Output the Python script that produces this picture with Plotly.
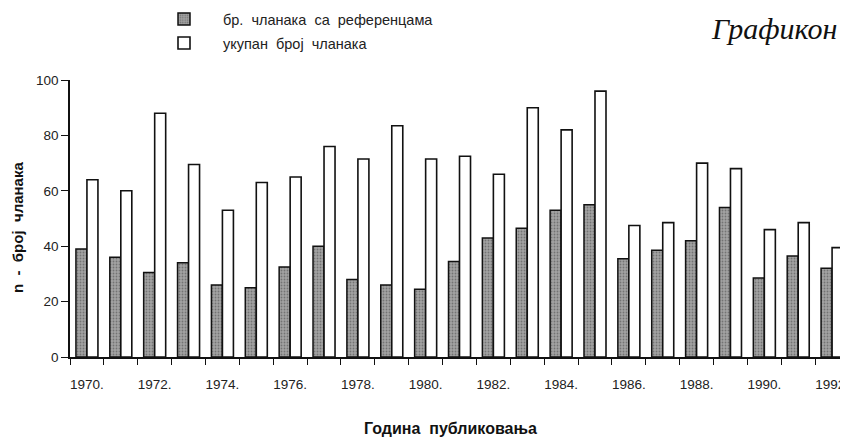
import plotly.graph_objects as go

years = list(range(1970, 1993))
with_refs = [39, 36, 30.5, 34, 26, 25, 32.5, 40, 28, 26, 24.5, 34.5, 43, 46.5, 53, 55,
             35.5, 38.5, 42, 54, 28.5, 36.5, 32]
totals = [64, 60, 88, 69.5, 53, 63, 65, 76, 71.5, 83.5, 71.5, 72.5, 66, 90, 82, 96,
          47.5, 48.5, 70, 68, 46, 48.5, 39.5]
label_years = [y for y in years if y % 2 == 0]
label_text = [f"{y}." for y in label_years]
boundaries = [y - 0.5 for y in years] + [years[-1] + 0.5]
y_ticks = [0, 20, 40, 60, 80, 100]

name_refs = "бр.  чланака  са  референцама"
name_tot = "укупан  број  чланака"

FONT = "Liberation Sans, Arial, sans-serif"

# figure is drawn inside the page body, which sits 8px from the window edge
W, H = 840, 429
L, T, B = 62, 72, 80
PW, PH = W - L, H - T - B


def px(xw):
    return (xw - 8 - L) / PW


def py(yw):
    return (H - B - (yw - 8)) / PH


fig = go.Figure()
fig.add_trace(go.Bar(
    x=years, y=with_refs, name=name_refs, legend="legend",
    marker=dict(color="#999", line=dict(color="#111", width=1.5),
                pattern=dict(shape=".", fgcolor="#444", bgcolor="#a3a3a3", size=3, solidity=0.3)),
))
fig.add_trace(go.Bar(
    x=years, y=totals, name=name_tot, legend="legend2",
    marker=dict(color="white", line=dict(color="#111", width=1.6)),
))

fig.update_layout(
    width=W, height=H, showlegend=True,
    margin=dict(l=L, r=0, t=T, b=B, autoexpand=False),
    paper_bgcolor="white", plot_bgcolor="white",
    barmode="group", bargap=0.35, bargroupgap=0.0,
    font=dict(family=FONT, size=13, color="#222"),
    title=dict(text="Графикон 1", xref="container", yref="container",
               x=(712 - 8) / W, xanchor="left", y=1 - (28 - 8) / H, yanchor="middle",
               font=dict(family="Liberation Serif, Times New Roman, serif", size=30,
                         style="italic", color="#111")),
    xaxis=dict(range=[1969.5, 1992.47], tickmode="array", tickvals=label_years,
               ticktext=label_text, ticks="", showline=True, linecolor="#111",
               linewidth=1.5, showgrid=False, zeroline=False, ticklabelstandoff=14,
               ticklabeloverflow="allow", tickfont=dict(size=13.5),
               minor=dict(tickmode="array", tickvals=boundaries, ticks="outside",
                          ticklen=6, tickwidth=1.3, tickcolor="#111", showgrid=False)),
    xaxis2=dict(overlaying="x", matches="x", anchor="y", side="bottom",
                tickmode="array", tickvals=boundaries, ticks="inside", ticklen=6,
                tickwidth=1.3, tickcolor="#111", showticklabels=False,
                showline=False, showgrid=False, zeroline=False),
    yaxis=dict(range=[0, 100], tickmode="array", tickvals=y_ticks, ticks="outside",
               ticklen=7, tickwidth=1.3, tickcolor="#111", showline=True,
               linecolor="#111", linewidth=1.5, showgrid=False, zeroline=False,
               tickfont=dict(size=13.5)),
    yaxis2=dict(overlaying="y", matches="y", anchor="x", side="left",
                tickmode="array", tickvals=y_ticks, ticks="inside", ticklen=6,
                tickwidth=1.3, tickcolor="#111", showticklabels=False,
                showline=False, showgrid=False, zeroline=False),
    legend=dict(x=px(145), y=py(19), xanchor="left", yanchor="middle",
                bgcolor="rgba(0,0,0,0)", font=dict(size=14.5), itemwidth=68),
    legend2=dict(x=px(145), y=py(43), xanchor="left", yanchor="middle",
                 bgcolor="rgba(0,0,0,0)", font=dict(size=14.5), itemwidth=68),
    annotations=[
        dict(text="Година  публиковања", xref="paper", yref="paper",
             x=px(450), y=py(428), xanchor="center", yanchor="middle",
             showarrow=False, font=dict(size=16, weight="bold", color="#111")),
        dict(text="n  -  број  чланака", xref="paper", yref="paper",
             x=px(17), y=py(228), xanchor="center", yanchor="middle",
             textangle=-90, showarrow=False, font=dict(size=15, weight="bold", color="#111")),
    ],
)

fig.write_html("out.html")
